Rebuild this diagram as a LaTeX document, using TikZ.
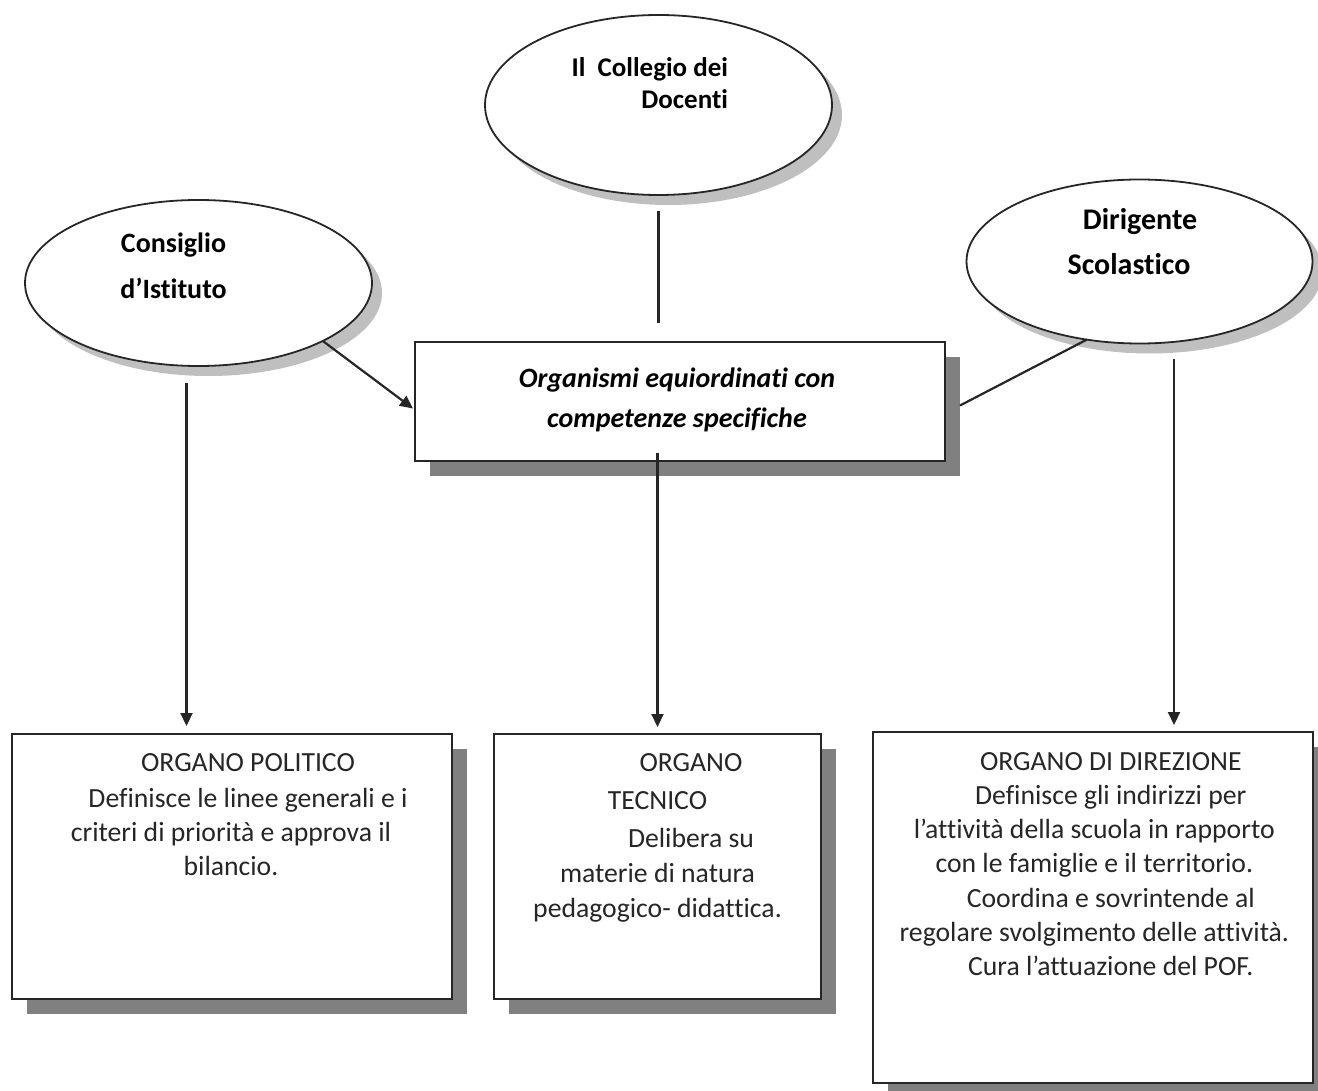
\documentclass[tikz,border=0pt]{standalone}
\usepackage{fontspec}
\setmainfont{Carlito}[Ligatures={TeX,NoCommon}]
\usetikzlibrary{shadows,arrows.meta,calc,shapes.geometric}
\begin{document}
\begin{tikzpicture}[x=1pt,y=-1pt,
  every node/.style={inner sep=0pt, outer sep=0pt},
  oval/.style={ellipse, draw=black!85, line width=1.8pt, fill=white,
    drop shadow={shadow xshift=10pt, shadow yshift=-10pt, fill=black!25, opacity=1}},
  box/.style={rectangle, draw=black!85, line width=2pt, fill=white,
    drop shadow={shadow xshift=15pt, shadow yshift=-15pt, fill=black!50, opacity=1}},
  link/.style={line width=2.2pt, draw=black!85},
  arr/.style={line width=2.2pt, draw=black!85, -{Triangle[length=13pt,width=12pt]}},
  body/.style={font=\fontsize{27.7}{34.3}\selectfont, anchor=base, text=black!85},
]
\useasboundingbox (0,0) rectangle (1318,1091);
\clip (0,0) rectangle (1318,1091);

% ellipses
\node[oval, minimum width=347pt, minimum height=180pt] (col) at (658.5,105) {};
\node[oval, minimum width=347pt, minimum height=166pt] (cons) at (198.5,283) {};
\node[oval, minimum width=346pt, minimum height=164pt] (dir) at (1139.5,261.5) {};

% boxes
\node[box, minimum width=530pt, minimum height=118pt] (org) at (680,401.5) {};
\node[box, minimum width=440pt, minimum height=265pt] (pol) at (232,866.5) {};
\node[box, minimum width=327pt, minimum height=265pt] (tec) at (657.5,866.5) {};
\node[box, minimum width=440pt, minimum height=351pt] (dirbox) at (1093,907.5) {};

% ellipse texts
\node[font=\bfseries\fontsize{27}{32}\selectfont, anchor=base east] (colT) at (728,77)
  {\begin{tabular}[t]{@{}r@{}}Il\ \ Collegio dei\\Docenti\end{tabular}};
\node[font=\bfseries\fontsize{28}{46}\selectfont, anchor=base] (consT) at (173.5,253)
  {\begin{tabular}[t]{@{}c@{}}Consiglio\\d’Istituto\end{tabular}};
\node[font=\bfseries\fontsize{30}{45}\selectfont, anchor=base] (dirT) at (1129,230)
  {\begin{tabular}[t]{@{}c@{}}\hspace*{22pt}Dirigente\\Scolastico\end{tabular}};

% central box text
\node[font=\bfseries\itshape\fontsize{28}{40}\selectfont, anchor=base] (orgT) at (677,388)
  {\begin{tabular}[t]{@{}c@{}}Organismi equiordinati con\\competenze specifiche\end{tabular}};

% bottom box texts
\node[body] (polT) at (231,771)
  {\begin{tabular}[t]{@{}c@{}}\hspace*{34pt}ORGANO POLITICO\\[2pt]
   \hspace*{34pt}Definisce le linee generali e i\\
   criteri di priorità e approva il\\
   bilancio.\end{tabular}};
\node[body] (tecT) at (657.5,771)
  {\begin{tabular}[t]{@{}c@{}}\hspace*{67pt}ORGANO\\[4pt]
   TECNICO\\[4pt]
   \hspace*{67pt}Delibera su\\[1pt]
   materie di natura\\
   pedagogico- didattica.\end{tabular}};
\node[body] (dirboxT) at (1094.3,770)
  {\begin{tabular}[t]{@{}c@{}}\hspace*{33pt}ORGANO DI DIREZIONE\\
   \hspace*{33pt}Definisce gli indirizzi per\\
   l’attività della scuola in rapporto\\
   con le famiglie e il territorio.\\
   \hspace*{33pt}Coordina e sovrintende al\\
   regolare svolgimento delle attività.\\
   \hspace*{33pt}Cura l’attuazione del POF.\end{tabular}};

% connectors
\draw[link, shorten <=16pt, shorten >=19pt] (col.south) -- (col.south |- org.north);
\draw[arr] (cons.-25) -- ([shift={(-2pt,-7pt)}]org.west);
\draw[link] (dir.236) -- ([shift={(15pt,-4pt)}]org.east);
\draw[arr, shorten >=8pt] ([shift={(-12pt,-17pt)}]cons.south) -- ([xshift=-12pt]cons.south |- pol.north);
\draw[arr, shorten >=7pt] ([yshift=8pt]org.south -| tec.north) -- (tec.north);
\draw[arr, shorten >=7pt] ([shift={(34.5pt,-16pt)}]dir.south) -- ([xshift=34.5pt]dir.south |- dirbox.north);
\end{tikzpicture}
\end{document}
